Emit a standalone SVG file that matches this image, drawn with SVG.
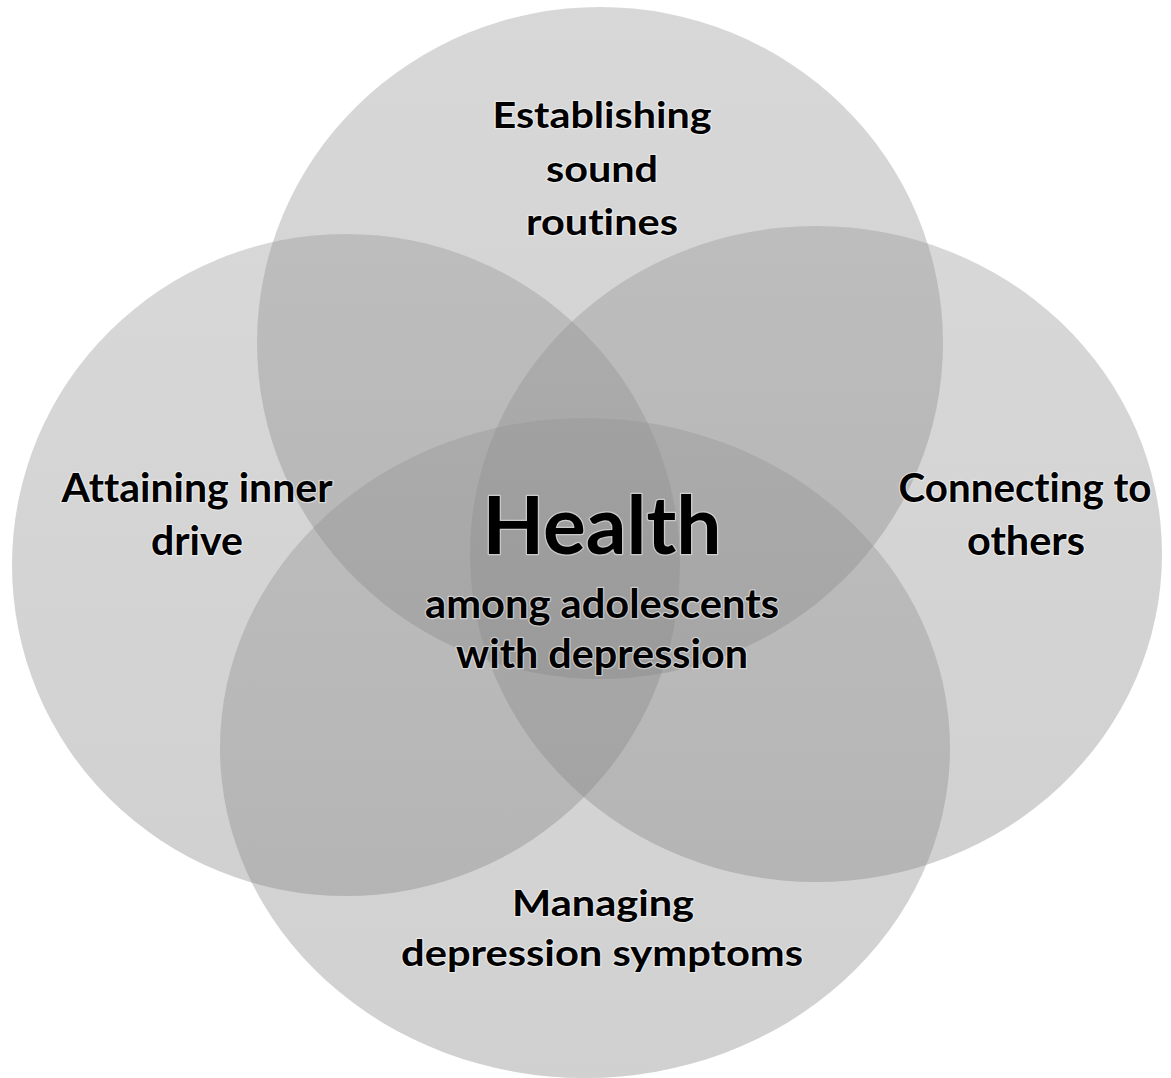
<svg xmlns="http://www.w3.org/2000/svg" width="1171" height="1078" viewBox="0 0 1171 1078">
  <defs>
    <linearGradient id="shade" x1="0" y1="0" x2="0" y2="1">
      <stop offset="0" stop-color="#929292"/>
      <stop offset="1" stop-color="#7e7e7e"/>
    </linearGradient>
  </defs>
  <style>
    .petal { fill: url(#shade); fill-opacity: 0.36; stroke: none; }
    text { fill: #000; font-weight: bold; text-anchor: middle;
           font-family: "Lato", "Open Sans", "Liberation Sans", sans-serif;
           font-variant-ligatures: none; font-feature-settings: "liga" 0;
           paint-order: stroke; stroke: #ffffff; stroke-opacity: 0.45; stroke-width: 2.5px; stroke-linejoin: round; }
    .std { font-size: 37px; }
    .wide { font-size: 40px; }
    .title { font-size: 80px; }
  </style>
  <rect width="1171" height="1078" fill="#ffffff"/>

  <!-- Four overlapping themes -->
  <g id="routines">
    <ellipse class="petal" cx="600" cy="343" rx="343" ry="336"/>
    <text class="std" x="602" y="128" textLength="219" lengthAdjust="spacingAndGlyphs">Establishing</text>
    <text class="std" x="602" y="182" textLength="112" lengthAdjust="spacingAndGlyphs">sound</text>
    <text class="std" x="602" y="235" textLength="152" lengthAdjust="spacingAndGlyphs">routines</text>
  </g>
  <g id="inner-drive">
    <ellipse class="petal" cx="346" cy="565" rx="334" ry="331"/>
    <text class="wide" x="197" y="502" textLength="271" lengthAdjust="spacingAndGlyphs">Attaining inner</text>
    <text class="wide" x="197" y="555" textLength="92" lengthAdjust="spacingAndGlyphs">drive</text>
  </g>
  <g id="connecting">
    <ellipse class="petal" cx="816" cy="554" rx="346" ry="328"/>
    <text class="wide" x="1025" y="502" textLength="253" lengthAdjust="spacingAndGlyphs">Connecting to</text>
    <text class="wide" x="1026" y="555" textLength="118" lengthAdjust="spacingAndGlyphs">others</text>
  </g>
  <g id="managing">
    <ellipse class="petal" cx="585" cy="748" rx="365" ry="330"/>
    <text class="std" x="603" y="916" textLength="182" lengthAdjust="spacingAndGlyphs">Managing</text>
    <text class="std" x="602" y="966" textLength="402" lengthAdjust="spacingAndGlyphs">depression symptoms</text>
  </g>

  <!-- Central concept -->
  <g id="health">
    <text class="title" x="602" y="554" textLength="239" lengthAdjust="spacingAndGlyphs">Health</text>
    <text class="wide" x="602" y="618" textLength="354" lengthAdjust="spacingAndGlyphs">among adolescents</text>
    <text class="wide" x="602" y="668" textLength="292" lengthAdjust="spacingAndGlyphs">with depression</text>
  </g>

  <g id="connectors"/>
</svg>
